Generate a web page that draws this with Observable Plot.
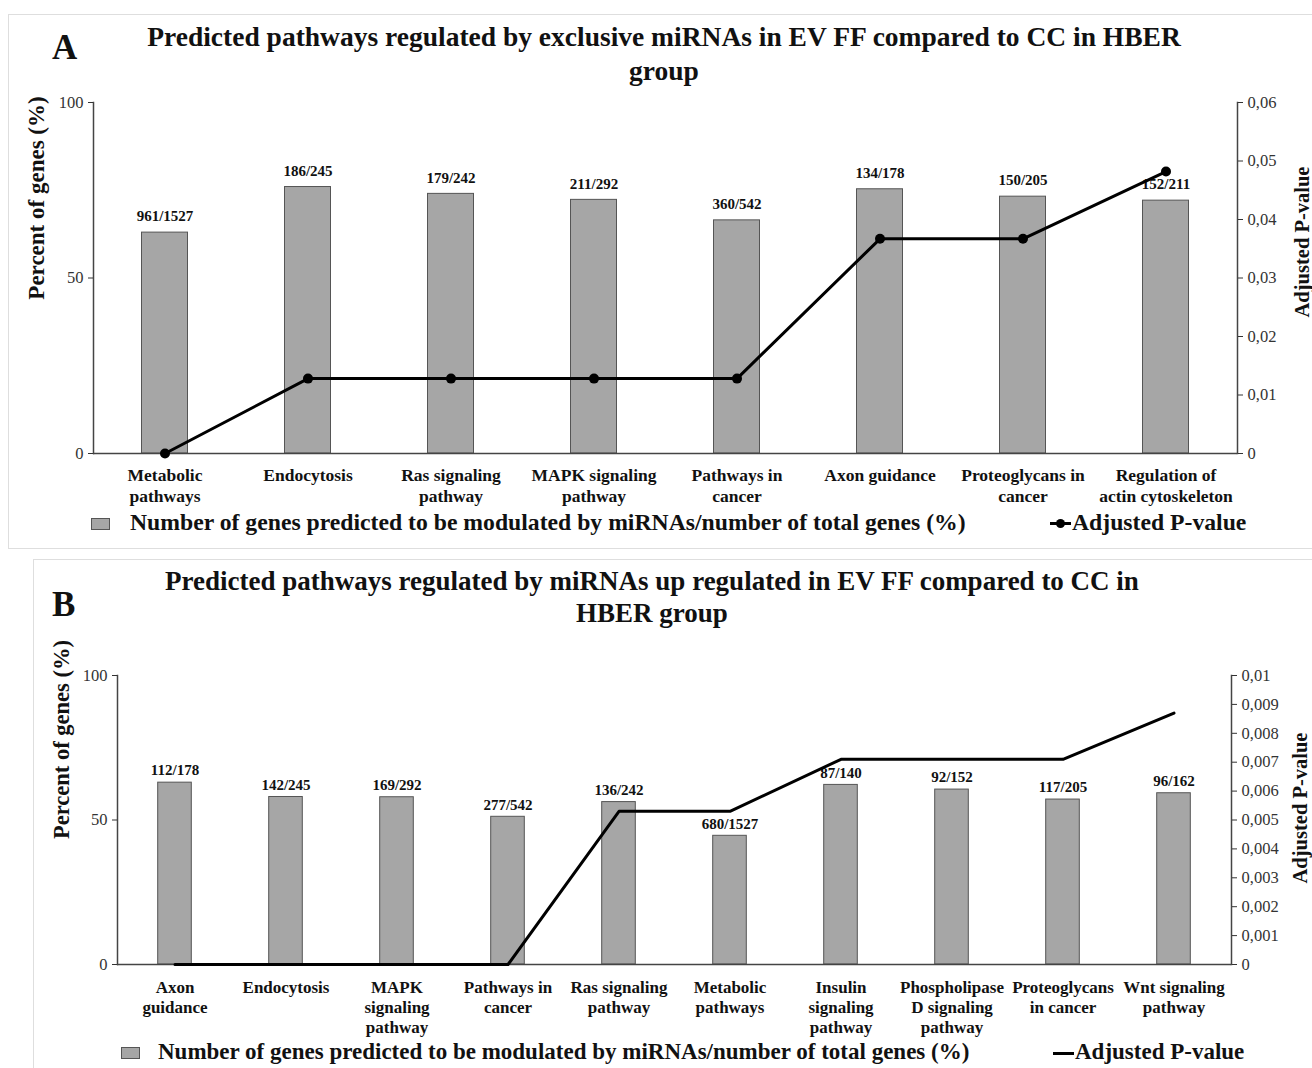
<!DOCTYPE html>
<html>
<head>
<meta charset="utf-8">
<script src="https://cdn.jsdelivr.net/npm/d3@7"></script>
<script src="https://cdn.jsdelivr.net/npm/@observablehq/plot@0.6"></script>
<style>
  html, body { margin: 0; padding: 0; background: #fff; }
  body { width: 1312px; height: 1068px; position: relative; overflow: hidden;
         font-family: "Liberation Serif", "Times New Roman", serif; color: #111; }
  .panel { position: absolute; border: 1px solid #dedede; box-sizing: border-box; }
  .abs { position: absolute; }
  .letter { font-size: 35px; font-weight: bold; line-height: 35px; }
  .title { font-weight: bold; text-align: center; white-space: nowrap; }
  .legend { font-weight: bold; line-height: 28px; white-space: nowrap; }
  .swatch { background: #a6a6a6; border: 1px solid #555; box-sizing: border-box; }
  .lineSw { background: #000; height: 3px; }
  .dotSw { background: #000; border-radius: 50%; width: 9px; height: 9px; }
  svg { position: absolute; left: 0; overflow: visible; }
</style>
</head>
<body>
<div class="panel" style="left:8px; top:14px; width:1330px; height:535px;"></div>
<div class="panel" style="left:33px; top:559px; width:1300px; height:530px;"></div>

<div class="abs letter" style="left:52px; top:30px;">A</div>
<div class="abs title" style="left:0; top:20px; width:1328px; font-size:27.5px; line-height:34px;">Predicted pathways regulated by exclusive miRNAs in EV FF compared to CC in HBER<br>group</div>

<div class="abs letter" style="left:52px; top:587px;">B</div>
<div class="abs title" style="left:0; top:565px; width:1304px; font-size:27px; line-height:32px;">Predicted pathways regulated by miRNAs up regulated in EV FF compared to CC in<br>HBER group</div>

<div id="chartA"></div>
<div id="chartB"></div>

<div class="abs swatch" style="left:91px; top:518px; width:19px; height:12px;"></div>
<div class="abs legend" style="left:130px; top:508px; font-size:23.7px;">Number of genes predicted to be modulated by miRNAs/number of total genes (%)</div>
<div class="abs lineSw" style="left:1050px; top:522px; width:21px;"></div>
<div class="abs dotSw" style="left:1056px; top:519px;"></div>
<div class="abs legend" style="left:1072px; top:508px; font-size:23.7px;">Adjusted P-value</div>

<div class="abs swatch" style="left:121px; top:1047px; width:19px; height:12px;"></div>
<div class="abs legend" style="left:158px; top:1038px; font-size:23px;">Number of genes predicted to be modulated by miRNAs/number of total genes (%)</div>
<div class="abs lineSw" style="left:1053px; top:1052px; width:21px;"></div>
<div class="abs legend" style="left:1075px; top:1038px; font-size:23px;">Adjusted P-value</div>

<script>
// Panel A: pathways regulated by exclusive miRNAs
const pathwaysA = ["Metabolic pathways", "Endocytosis", "Ras signaling pathway", "MAPK signaling pathway",
  "Pathways in cancer", "Axon guidance", "Proteoglycans in cancer", "Regulation of actin cytoskeleton"];
const tickLabelsA = ["Metabolic\npathways", "Endocytosis", "Ras signaling\npathway", "MAPK signaling\npathway",
  "Pathways in\ncancer", "Axon guidance", "Proteoglycans in\ncancer", "Regulation of\nactin cytoskeleton"];
const genesA = [961, 186, 179, 211, 360, 134, 150, 152];
const totalA = [1527, 245, 242, 292, 542, 178, 205, 211];
const pValueA = [0, 0.0128, 0.0128, 0.0128, 0.0128, 0.0367, 0.0367, 0.0482];
const pTicksA = [0, 0.01, 0.02, 0.03, 0.04, 0.05, 0.06];

// Panel B: pathways regulated by up-regulated miRNAs
const pathwaysB = ["Axon guidance", "Endocytosis", "MAPK signaling pathway", "Pathways in cancer",
  "Ras signaling pathway", "Metabolic pathways", "Insulin signaling pathway",
  "Phospholipase D signaling pathway", "Proteoglycans in cancer", "Wnt signaling pathway"];
const tickLabelsB = ["Axon\nguidance", "Endocytosis", "MAPK\nsignaling\npathway", "Pathways in\ncancer",
  "Ras signaling\npathway", "Metabolic\npathways", "Insulin\nsignaling\npathway",
  "Phospholipase\nD signaling\npathway", "Proteoglycans\nin cancer", "Wnt signaling\npathway"];
const genesB = [112, 142, 169, 277, 136, 680, 87, 92, 117, 96];
const totalB = [178, 245, 292, 542, 242, 1527, 140, 152, 205, 162];
const pValueB = [0, 0, 0, 0, 0.0053, 0.0053, 0.0071, 0.0071, 0.0071, 0.0087];
const pTicksB = [0, 0.001, 0.002, 0.003, 0.004, 0.005, 0.006, 0.007, 0.008, 0.009, 0.01];

const percentTicks = [0, 50, 100];
const FONT = '"Liberation Serif", "Times New Roman", serif';

const fmtP = v => v === 0 ? "0" : String(+v.toFixed(4)).replace(".", ",");

function pathwayChart(cfg) {
  const rows = cfg.pathways.map((name, i) => ({
    name,
    pct: cfg.genes[i] / cfg.total[i] * 100,
    ratio: `${cfg.genes[i]}/${cfg.total[i]}`,
    p: cfg.pValues[i]
  }));
  // the P-value axis shares the plot height with the percent axis
  const pToY = d3.scaleLinear([0, cfg.pMax], [0, 100]);
  const tickText = new Map(cfg.pathways.map((n, i) => [n, cfg.tickLabels[i]]));

  const marks = [
    Plot.barY(rows, {x: "name", y: "pct", fill: "#a6a6a6", stroke: "#555", strokeWidth: 1,
      insetLeft: cfg.inset, insetRight: cfg.inset}),
    Plot.text(rows, {x: "name", y: "pct", text: "ratio", dy: cfg.labelDy, fontSize: 15,
      fontWeight: "bold", fill: "#111"}),
    Plot.ruleY([0], {stroke: "#444", strokeWidth: 1.5}),
    Plot.frame({anchor: "left", stroke: "#444", strokeWidth: 1.5}),
    Plot.frame({anchor: "right", stroke: "#444", strokeWidth: 1.5}),
    Plot.line(rows, {x: "name", y: d => pToY(d.p), stroke: "#000", strokeWidth: 3}),
  ];
  if (cfg.dots) marks.push(Plot.dot(rows, {x: "name", y: d => pToY(d.p), r: 5, fill: "#000"}));
  marks.push(
    Plot.axisY(percentTicks, {anchor: "left", tickSize: 5, tickPadding: 5, fontSize: 16.5,
      color: "#333", label: null}),
    Plot.axisY(cfg.pTicks.map(pToY), {anchor: "right", tickSize: 5, tickPadding: 5, fontSize: 16.5,
      color: "#333", label: null, tickFormat: v => fmtP(pToY.invert(v))}),
    Plot.axisX({tickSize: 0, tickPadding: cfg.xPad, fontSize: cfg.xFont, fontWeight: "bold",
      lineHeight: cfg.lineHeight, color: "#111", label: null, tickFormat: n => tickText.get(n)}),
    Plot.text(["Percent of genes (%)"], {frameAnchor: "left", textAnchor: "middle", rotate: -90,
      dx: cfg.leftLabel[0], dy: cfg.leftLabel[1], fontSize: cfg.leftLabel[2], fontWeight: "bold", fill: "#111"}),
    Plot.text(["Adjusted P-value"], {frameAnchor: "right", textAnchor: "middle", rotate: -90,
      dx: cfg.rightLabel[0], dy: cfg.rightLabel[1], fontSize: cfg.rightLabel[2], fontWeight: "bold", fill: "#111"})
  );

  return Plot.plot({
    width: 1312,
    height: cfg.height,
    marginTop: cfg.margins[0],
    marginRight: cfg.margins[1],
    marginBottom: cfg.margins[2],
    marginLeft: cfg.margins[3],
    style: {fontFamily: FONT, background: "transparent", overflow: "visible"},
    x: {domain: cfg.pathways, padding: 0},
    y: {domain: [0, 100]},
    marks
  });
}

const svgA = pathwayChart({
  pathways: pathwaysA, tickLabels: tickLabelsA, genes: genesA, total: totalA, pValues: pValueA,
  pMax: 0.06, pTicks: pTicksA, dots: true,
  height: 420, margins: [14, 75, 55, 93], inset: 48.5, labelDy: -16,
  xPad: 12, xFont: 17.5, lineHeight: 1.22,
  leftLabel: [-57, -80, 23], rightLabel: [65, -36, 20.5]
});
svgA.style.top = "88px";
document.getElementById("chartA").append(svgA);

const svgB = pathwayChart({
  pathways: pathwaysB, tickLabels: tickLabelsB, genes: genesB, total: totalB, pValues: pValueB,
  pMax: 0.01, pTicks: pTicksB, dots: false,
  height: 406, margins: [43, 81, 74, 117], inset: 38.7, labelDy: -12,
  xPad: 14, xFont: 17, lineHeight: 1.18,
  leftLabel: [-56, -80.5, 22.5], rightLabel: [69, -12, 20.5]
});
svgB.style.top = "632px";
document.getElementById("chartB").append(svgB);
</script>
</body>
</html>
